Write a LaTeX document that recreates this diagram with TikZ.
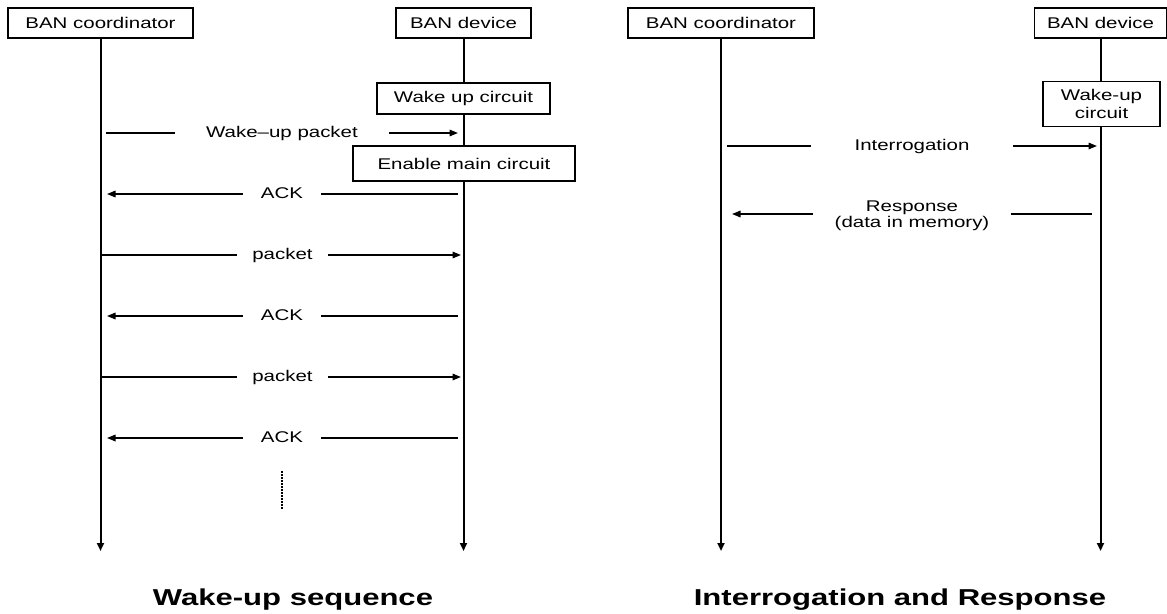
\documentclass[tikz,border=0pt]{standalone}
\usepackage{fontspec}
\newfontfamily\diagfont{Liberation Sans}[FakeStretch=1.32]
\newfontfamily\titlefont{Liberation Sans}[FakeStretch=1.35]
\usetikzlibrary{arrows.meta}
\begin{document}
\begin{tikzpicture}[x=1pt,y=-1pt,
  box/.style={draw,line width=1.8pt,fill=white,inner sep=0pt,align=center,
    font=\diagfont\fontsize{15.5}{18.5}\selectfont},
  life/.style={line width=2pt,-{Triangle[length=8pt,width=7pt]}},
  msg/.style={line width=1.6pt},
  tip/.style={-{Triangle[length=8.5pt,width=6.5pt]}},
  gapcover/.style={fill=white,inner sep=0pt,minimum height=8pt},
  lbl/.style={font=\diagfont\fontsize{15.5}{18.5}\selectfont,anchor=base,inner sep=0pt},
  ttl/.style={font=\titlefont\bfseries\fontsize{23}{27}\selectfont,anchor=base,inner sep=0pt},
  dots/.style={line width=1.5pt,dash pattern=on 1.5pt off 1.5pt}]
\useasboundingbox (0,0) rectangle (1167,613);

% header boxes
\node[box,minimum width=185pt,minimum height=30pt] (lc) at (100.5,23) {BAN coordinator};
\node[box,minimum width=135pt,minimum height=30pt] (ld) at (463.5,23) {BAN device};
\node[box,minimum width=186pt,minimum height=30pt] (rc) at (721,23) {BAN coordinator};
\node[box,minimum width=132pt,minimum height=30pt] (rd) at (1100.5,23) {BAN device};

% lifelines
\coordinate (lcend) at (100.5,551);
\coordinate (ldend) at (463.5,551);
\coordinate (rcend) at (721,551);
\coordinate (rdend) at (1100.5,551);
\draw[life] (lc.south) -- (lcend);
\draw[life] (ld.south) -- (ldend);
\draw[life] (rc.south) -- (rcend);
\draw[life] (rd.south) -- (rdend);

% activity boxes
\node[box,minimum width=173pt,minimum height=31pt] (wuc) at (463.5,98.5) {Wake up circuit};
\node[box,minimum width=222pt,minimum height=35pt] (emc) at (464,163.5) {Enable main circuit};
\node[box,minimum width=117pt,minimum height=45pt] (rwu) at (1101.5,104) {Wake-up\\circuit};

% left messages
\coordinate (m1s) at (106,133); \coordinate (m1e) at (458,133);
\draw[msg,tip] (m1s) -- (m1e);
\node[gapcover,minimum width=214pt] (g1) at (282,133) {};
\node[lbl] (l1) at (282,137.5) {Wake–up packet};

\coordinate (m2s) at (458,194); \coordinate (m2e) at (107,194);
\draw[msg,tip] (m2s) -- (m2e);
\node[gapcover,minimum width=78pt] (g2) at (282,194) {};
\node[lbl] (l2) at (282,198.5) {ACK};

\coordinate (m3s) at (101,255); \coordinate (m3e) at (461,255);
\draw[msg,tip] (m3s) -- (m3e);
\node[gapcover,minimum width=91pt] (g3) at (282.5,255) {};
\node[lbl] (l3) at (282.5,259.5) {packet};

\coordinate (m4s) at (458,316); \coordinate (m4e) at (107,316);
\draw[msg,tip] (m4s) -- (m4e);
\node[gapcover,minimum width=78pt] (g4) at (282,316) {};
\node[lbl] (l4) at (282,320.5) {ACK};

\coordinate (m5s) at (101,377); \coordinate (m5e) at (461,377);
\draw[msg,tip] (m5s) -- (m5e);
\node[gapcover,minimum width=91pt] (g5) at (282.5,377) {};
\node[lbl] (l5) at (282.5,381.5) {packet};

\coordinate (m6s) at (458,438); \coordinate (m6e) at (107,438);
\draw[msg,tip] (m6s) -- (m6e);
\node[gapcover,minimum width=78pt] (g6) at (282,438) {};
\node[lbl] (l6) at (282,442.5) {ACK};

\coordinate (d1) at (282,471); \coordinate (d2) at (282,509);
\draw[dots] (d1) -- (d2);

% right messages
\coordinate (r1s) at (727,146); \coordinate (r1e) at (1097,146);
\draw[msg,tip] (r1s) -- (r1e);
\node[gapcover,minimum width=202pt] (rg1) at (912,146) {};
\node[lbl] (rl1) at (912,150.5) {Interrogation};

\coordinate (r2s) at (1092,214); \coordinate (r2e) at (732,214);
\draw[msg,tip] (r2s) -- (r2e);
\node[gapcover,minimum width=198pt] (rg2) at (912,214) {};
\node[lbl] (rl2a) at (912,211) {Response};
\node[lbl] (rl2b) at (912,227.5) {(data in memory)};

% titles
\node[ttl] (t1) at (293,605) {Wake-up sequence};
\node[ttl] (t2) at (900,605) {Interrogation and Response};
\end{tikzpicture}
\end{document}
